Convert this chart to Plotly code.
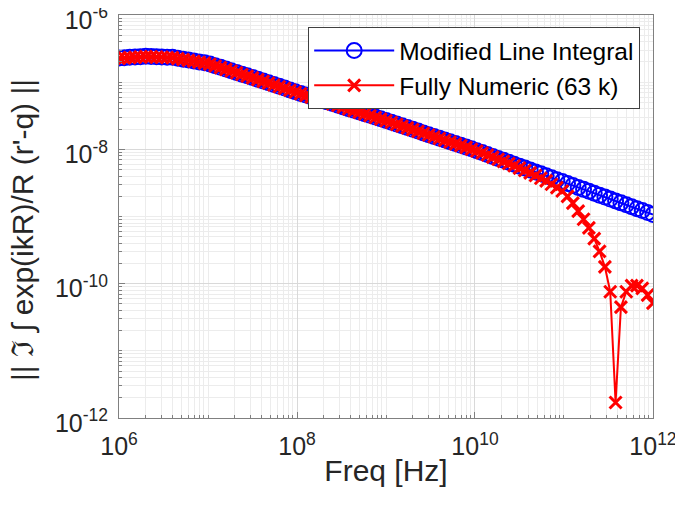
import numpy as np
import plotly.graph_objects as go

# Frequency sweep (Hz): 101 log-spaced samples from 1e6 to 1e12
freq = np.logspace(6, 12, 101)

# log10 of || Im ∫ exp(ikR)/R (r'-q) ||
mli_log10 = [
    -6.640, -6.635, -6.630, -6.625, -6.620, -6.615, -6.618, -6.621, -6.624, -6.627,
    -6.630, -6.644, -6.657, -6.671, -6.684, -6.698, -6.711, -6.728, -6.754, -6.779,
    -6.804, -6.829, -6.854, -6.880, -6.905, -6.930, -6.956, -6.983, -7.009, -7.036,
    -7.062, -7.088, -7.115, -7.141, -7.167, -7.192, -7.217, -7.242, -7.268, -7.293,
    -7.318, -7.343, -7.368, -7.394, -7.419, -7.444, -7.469, -7.494, -7.520, -7.545,
    -7.570, -7.596, -7.623, -7.649, -7.676, -7.702, -7.728, -7.755, -7.781, -7.808,
    -7.834, -7.860, -7.887, -7.913, -7.940, -7.966, -7.992, -8.020, -8.048, -8.077,
    -8.106, -8.135, -8.164, -8.192, -8.221, -8.250, -8.279, -8.308, -8.336, -8.365,
    -8.394, -8.423, -8.452, -8.480, -8.509, -8.538, -8.567, -8.596, -8.624, -8.653,
    -8.682, -8.711, -8.740, -8.768, -8.797, -8.826, -8.855, -8.884, -8.912, -8.941,
    -8.970,
]

fn_log10 = [
    -6.645, -6.640, -6.635, -6.630, -6.625, -6.620, -6.623, -6.626, -6.629, -6.632,
    -6.635, -6.649, -6.662, -6.676, -6.689, -6.703, -6.716, -6.733, -6.759, -6.784,
    -6.809, -6.834, -6.859, -6.885, -6.910, -6.935, -6.961, -6.988, -7.014, -7.041,
    -7.067, -7.093, -7.120, -7.146, -7.172, -7.197, -7.222, -7.247, -7.273, -7.298,
    -7.323, -7.348, -7.373, -7.399, -7.424, -7.449, -7.474, -7.499, -7.525, -7.550,
    -7.575, -7.601, -7.628, -7.654, -7.681, -7.707, -7.733, -7.760, -7.786, -7.813,
    -7.839, -7.865, -7.892, -7.918, -7.945, -7.971, -7.998, -8.025, -8.055, -8.085,
    -8.115, -8.147, -8.180, -8.210, -8.245, -8.280, -8.315, -8.350, -8.390, -8.430,
    -8.470, -8.520, -8.570, -8.620, -8.700, -8.800, -8.920, -9.040, -9.170, -9.330,
    -9.520, -9.750, -10.120, -11.770, -10.350, -10.120, -10.030, -10.030, -10.070, -10.170,
    -10.290,
]

mli = [10 ** v for v in mli_log10]
fn = [10 ** v for v in fn_log10]

x_tickvals = [1e6, 1e8, 1e10, 1e12]
x_ticktext = ["10<sup>6</sup>", "10<sup>8</sup>", "10<sup>10</sup>", "10<sup>12</sup>"]
y_tickvals = [1e-12, 1e-10, 1e-8, 1e-6]
y_ticktext = ["10<sup>-12</sup>", "10<sup>-10</sup>", "10<sup>-8</sup>", "10<sup>-6</sup>"]
y_title = "|| ℑ ∫ exp(ikR)/R (r'-q) ||"

TXT = "#262626"
FONT = "Liberation Sans, Arial, sans-serif"

fig = go.Figure()
fig.add_trace(go.Scatter(
    x=freq, y=mli, mode="lines+markers", name="Modified Line Integral",
    line=dict(color="#0000FF", width=2),
    marker=dict(symbol="circle-open", size=15, color="#0000FF", line=dict(width=2, color="#0000FF")),
))
fig.add_trace(go.Scatter(
    x=freq, y=fn, mode="lines+markers", name="Fully Numeric (63 k)",
    line=dict(color="#FF0000", width=2),
    marker=dict(symbol="x-thin-open", size=12, color="#FF0000", line=dict(width=3, color="#FF0000")),
))

axis_common = dict(
    type="log", automargin=False,
    showline=True, linecolor="#808080", linewidth=1, mirror=True,
    showgrid=True, gridcolor="#d9d9d9", gridwidth=1,
    ticks="inside", ticklen=6, tickcolor="#808080",
    tickfont=dict(family=FONT, size=25, color=TXT),
    ticklabeloverflow="allow",
    zeroline=False,
    minor=dict(dtick="D1", showgrid=True, gridcolor="#ececec", ticks="inside", ticklen=3, tickcolor="#808080"),
)

fig.update_layout(
    width=683, height=515,
    margin=dict(l=111, r=38, t=7, b=105),
    paper_bgcolor="white", plot_bgcolor="white",
    font=dict(family=FONT, color=TXT),
    showlegend=True,
    legend=dict(
        x=0.976, y=0.970, xanchor="right", yanchor="top",
        bgcolor="white", bordercolor="#404040", borderwidth=1,
        font=dict(family=FONT, size=24.5, color="#000000"),
        itemwidth=80, tracegroupgap=0,
    ),
    annotations=[dict(
        text=y_title, xref="paper", yref="paper", x=-0.18, y=0.466,
        xanchor="center", yanchor="middle", textangle=-90, showarrow=False,
        font=dict(family=FONT, size=30, color=TXT),
    )],
)
fig.update_xaxes(
    **axis_common,
    range=[5.9995, 12.0005], tickvals=x_tickvals, ticktext=x_ticktext,
    ticklabelstandoff=6,
    title=dict(text="Freq [Hz]", font=dict(family=FONT, size=30, color=TXT), standoff=0),
)
fig.update_yaxes(
    **axis_common,
    range=[-12.0005, -5.9995], tickvals=y_tickvals, ticktext=y_ticktext,
    ticklabelstandoff=5, ticklabelshift=5,
)

fig.write_html("out.html")
